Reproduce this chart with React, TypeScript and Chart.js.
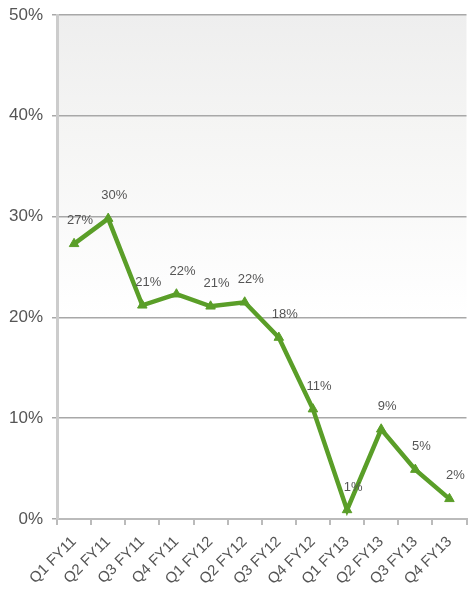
import { useEffect, useRef } from "react";
import { Chart, registerables, Plugin } from "chart.js";

Chart.register(...registerables);

const QUARTERS = [
	"Q1 FY11",
	"Q2 FY11",
	"Q3 FY11",
	"Q4 FY11",
	"Q1 FY12",
	"Q2 FY12",
	"Q3 FY12",
	"Q4 FY12",
	"Q1 FY13",
	"Q2 FY13",
	"Q3 FY13",
	"Q4 FY13",
];
const GROWTH = [27.3, 29.8, 21.2, 22.3, 21.1, 21.5, 18.0, 10.9, 0.9, 8.9, 4.9, 2.0];
const Y_TICKS = [0, 10, 20, 30, 40, 50];

const GREEN = "#5a9e28";
const TEXT = "#555555";
const FONT = "'Liberation Sans', Arial, sans-serif";

// soft grey wash at the top of the plot area
const backdrop: Plugin<"line"> = {
	id: "backdrop",
	beforeDraw(chart) {
		const { ctx, chartArea: a } = chart;
		const g = ctx.createLinearGradient(0, a.top, 0, a.bottom);
		g.addColorStop(0, "#eeeeee");
		g.addColorStop(0.2, "#f4f4f3");
		g.addColorStop(0.6, "#ffffff");
		ctx.save();
		ctx.fillStyle = g;
		ctx.fillRect(a.left, a.top, a.right - a.left, a.bottom - a.top);
		ctx.restore();
	},
};

const valueLabels: Plugin<"line"> = {
	id: "valueLabels",
	afterDatasetsDraw(chart) {
		const { ctx } = chart;
		const meta = chart.getDatasetMeta(0);
		ctx.save();
		ctx.font = `13px ${FONT}`;
		ctx.fillStyle = TEXT;
		ctx.textAlign = "center";
		ctx.textBaseline = "middle";
		meta.data.forEach((pt, i) => {
			ctx.fillText(Math.round(GROWTH[i]) + "%", pt.x + 6, pt.y - 23);
		});
		ctx.restore();
	},
};

export default function App() {
	const canvasRef = useRef<HTMLCanvasElement | null>(null);

	useEffect(() => {
		if (!canvasRef.current) return;
		const chart = new Chart(canvasRef.current, {
			type: "line",
			data: {
				labels: QUARTERS,
				datasets: [
					{
						data: GROWTH,
						borderColor: GREEN,
						backgroundColor: GREEN,
						borderWidth: 4.5,
						pointStyle: "triangle",
						pointRadius: 5.5,
						pointBorderWidth: 1,
						tension: 0,
					},
				],
			},
			options: {
				responsive: true,
				maintainAspectRatio: false,
				animation: false,
				layout: { padding: { top: 15, right: 0, left: 0, bottom: 0 } },
				plugins: {
					legend: { display: false },
					tooltip: { enabled: false },
				},
				scales: {
					x: {
						offset: true,
						grid: {
							offset: true,
							drawOnChartArea: false,
							drawTicks: true,
							tickLength: 6,
							color: "#bbbbbb",
							lineWidth: 2,
						},
						border: { color: "#bbbbbb", width: 2 },
						ticks: {
							color: TEXT,
							font: { size: 15, family: FONT },
							maxRotation: 45,
							minRotation: 45,
							padding: 8,
							autoSkip: false,
						},
						afterFit: (s) => {
							s.height = 73;
							s.paddingLeft = 0;
							s.paddingRight = 0;
						},
					},
					y: {
						min: 0,
						max: 50,
						afterBuildTicks: (s) => {
							s.ticks = Y_TICKS.map((v) => ({ value: v }));
						},
						grid: {
							color: "#a8a8a8",
							lineWidth: 1.5,
							tickLength: 5,
						},
						border: { color: "#cccccc", width: 3 },
						ticks: {
							color: TEXT,
							font: { size: 17, family: FONT },
							padding: 9,
							callback: (v) => v + "%",
						},
						afterFit: (s) => {
							s.width = 57;
							s.paddingTop = 0;
							s.paddingBottom = 0;
						},
					},
				},
			},
			plugins: [backdrop, valueLabels],
		});
		return () => chart.destroy();
	}, []);

	return (
		<div style={{ position: "fixed", left: 0, top: 0, width: 473, height: 592, background: "#fff" }}>
			<canvas ref={canvasRef} />
		</div>
	);
}
